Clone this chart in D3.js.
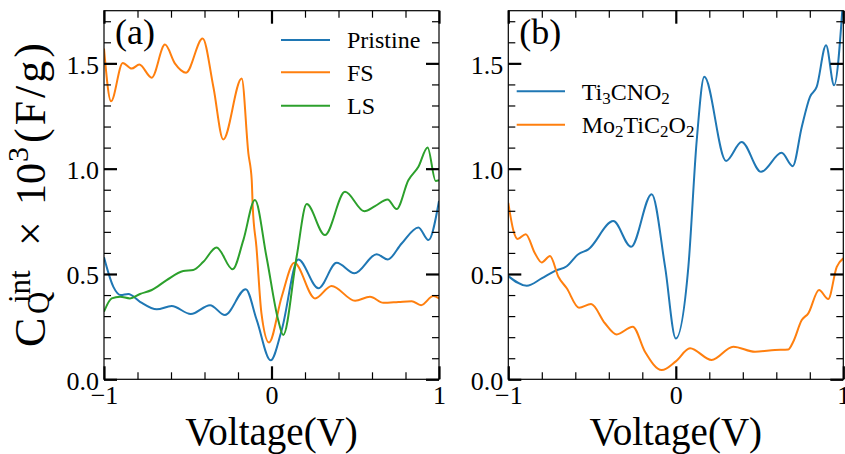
<!DOCTYPE html>
<html>
<head>
<meta charset="utf-8">
<script src="https://cdn.jsdelivr.net/npm/d3@7"></script>
<style>
  html, body { margin: 0; padding: 0; background: #fff; }
  svg { display: block; }
  text { font-family: "Liberation Serif", "Times New Roman", serif; fill: #000; }
</style>
</head>
<body>
<svg id="chart" width="845" height="454"></svg>
<script>
// ---------------- data ----------------
const pristineV = [-1,-0.944,-0.900,-0.855,-0.785,-0.685,-0.596,-0.482,-0.367,-0.278,-0.154,-0.088,-0.005,0.061,0.160,0.280,0.389,0.495,0.628,0.694,0.777,0.877,0.937,1];
const pristineC = [0.579,0.439,0.400,0.405,0.368,0.332,0.348,0.310,0.352,0.305,0.428,0.281,0.090,0.234,0.569,0.432,0.553,0.503,0.594,0.569,0.645,0.721,0.661,0.847];

const fsV = [-1,-0.958,-0.888,-0.835,-0.789,-0.715,-0.636,-0.576,-0.510,-0.411,-0.347,-0.288,-0.178,-0.138,-0.118,-0.112,-0.090,-0.060,-0.015,0.061,0.136,0.260,0.359,0.499,0.588,0.668,0.757,0.837,0.893,0.966,1];
const fsC = [1.570,1.320,1.502,1.475,1.494,1.432,1.589,1.499,1.456,1.618,1.388,1.139,1.428,1.072,0.945,0.819,0.629,0.313,0.175,0.392,0.553,0.384,0.443,0.373,0.392,0.363,0.367,0.371,0.352,0.395,0.384];

const lsV = [-1,-0.954,-0.904,-0.845,-0.785,-0.715,-0.626,-0.527,-0.467,-0.407,-0.328,-0.232,-0.168,-0.099,-0.030,0.040,0.070,0.150,0.210,0.319,0.439,0.554,0.618,0.693,0.747,0.817,0.877,0.932,0.980,1];
const lsC = [0.321,0.384,0.392,0.384,0.405,0.424,0.471,0.514,0.519,0.558,0.626,0.522,0.661,0.851,0.582,0.281,0.210,0.582,0.832,0.685,0.890,0.798,0.822,0.854,0.808,0.945,1.009,1.101,0.942,0.945];

const ticnoV = [-1,-0.890,-0.801,-0.721,-0.651,-0.582,-0.522,-0.373,-0.267,-0.144,-0.064,0,0.075,0.125,0.170,0.300,0.393,0.509,0.632,0.698,0.752,0.801,0.841,0.897,0.945,1];
const ticnoC = [0.490,0.444,0.479,0.515,0.537,0.594,0.617,0.751,0.629,0.879,0.534,0.194,0.534,1.135,1.436,1.037,1.127,0.985,1.075,1.012,1.198,1.341,1.388,1.586,1.396,1.82];

const motiV = [-1,-0.970,-0.944,-0.896,-0.841,-0.801,-0.751,-0.701,-0.651,-0.578,-0.506,-0.423,-0.353,-0.257,-0.184,-0.084,0,0.085,0.214,0.343,0.473,0.592,0.672,0.701,0.752,0.791,0.855,0.910,0.961,1];
const motiC = [0.838,0.708,0.666,0.689,0.598,0.555,0.585,0.487,0.432,0.340,0.357,0.266,0.213,0.250,0.131,0.044,0.085,0.147,0.092,0.155,0.131,0.139,0.142,0.178,0.281,0.313,0.424,0.381,0.534,0.574];

const xMajor = [-1, 0, 1];
const xMinor = [-0.8,-0.6,-0.4,-0.2,0.2,0.4,0.6,0.8];
const xTickLabels = ["\u22121", "0", "1"];
const yMajor = [0, 0.5, 1.0, 1.5];
const yMinor = [0.1,0.2,0.3,0.4,0.6,0.7,0.8,0.9,1.1,1.2,1.3,1.4,1.6,1.7];
const yTickLabels = ["0.0", "0.5", "1.0", "1.5"];

const colors = { blue: "#1f77b4", orange: "#ff7f0e", green: "#2ca02c" };

const panels = [
  { id: "a", label: "(a)", left: 104, right: 439,
    series: [
      { name: "Pristine", v: pristineV, c: pristineC, color: colors.blue },
      { name: "FS", v: fsV, c: fsC, color: colors.orange },
      { name: "LS", v: lsV, c: lsC, color: colors.green }
    ],
    legend: { x1: 281, x2: 330, tx: 347, ys: [40, 72.3, 105.7] }
  },
  { id: "b", label: "(b)", left: 508.3, right: 843.3,
    series: [
      { name: "Ti3CNO2", parts: [["Ti",0],["3",1],["CNO",0],["2",1]], v: ticnoV, c: ticnoC, color: colors.blue },
      { name: "Mo2TiC2O2", parts: [["Mo",0],["2",1],["TiC",0],["2",1],["O",0],["2",1]], v: motiV, c: motiC, color: colors.orange }
    ],
    legend: { x1: 516.7, x2: 565, tx: 581.7, ys: [91.3, 124.7] }
  }
];

// ---------------- drawing ----------------
const svg = d3.select("#chart");
svg.append("rect").attr("width", 845).attr("height", 454).attr("fill", "#fff");

const plotTop = 10.7, plotBottom = 379.3;
const y = d3.scaleLinear().domain([0, 1.75]).range([plotBottom, plotTop]);
const defs = svg.append("defs");

function styleAxis(sel, w) {
  sel.select(".domain").remove();
  sel.selectAll(".tick line").attr("stroke", "#000").attr("stroke-width", w);
}

panels.forEach(p => {
  const x = d3.scaleLinear().domain([-1, 1]).range([p.left, p.right]);
  const g = svg.append("g");

  const clipId = "clip-" + p.id;
  defs.append("clipPath").attr("id", clipId)
    .append("rect").attr("x", p.left).attr("y", plotTop)
    .attr("width", p.right - p.left).attr("height", plotBottom - plotTop);

  const line = d3.line()
    .x(d => x(d[0])).y(d => y(d[1]))
    .curve(d3.curveMonotoneX);
  const cg = g.append("g").attr("clip-path", `url(#${clipId})`);
  p.series.forEach(s => {
    const pts = s.v.map((v, i) => [v, s.c[i]]);
    cg.append("path").datum(pts)
      .attr("d", line)
      .attr("fill", "none")
      .attr("stroke", s.color)
      .attr("stroke-width", 2)
      .attr("stroke-linejoin", "round");
  });

  const bMaj = g.append("g").attr("transform", `translate(0,${plotBottom})`)
    .call(d3.axisBottom(x).tickValues(xMajor).tickSize(-13).tickPadding(6)
      .tickFormat((d, i) => xTickLabels[i]));
  styleAxis(bMaj, 2.2);
  bMaj.selectAll(".tick text").attr("font-size", 26).attr("font-family", "Liberation Serif").attr("fill", "#000");
  styleAxis(g.append("g").attr("transform", `translate(0,${plotBottom})`)
    .call(d3.axisBottom(x).tickValues(xMinor).tickSize(-7).tickFormat("")), 1.2);
  styleAxis(g.append("g").attr("transform", `translate(0,${plotTop})`)
    .call(d3.axisTop(x).tickValues(xMajor).tickSize(-13).tickFormat("")), 2.2);
  styleAxis(g.append("g").attr("transform", `translate(0,${plotTop})`)
    .call(d3.axisTop(x).tickValues(xMinor).tickSize(-7).tickFormat("")), 1.2);
  const lMaj = g.append("g").attr("transform", `translate(${p.left},0)`)
    .call(d3.axisLeft(y).tickValues(yMajor).tickSize(-13).tickPadding(5)
      .tickFormat((d, i) => yTickLabels[i]));
  styleAxis(lMaj, 2.2);
  lMaj.selectAll(".tick text").attr("font-size", 26).attr("font-family", "Liberation Serif")
    .attr("fill", "#000").attr("dy", "0.38em");
  styleAxis(g.append("g").attr("transform", `translate(${p.left},0)`)
    .call(d3.axisLeft(y).tickValues(yMinor).tickSize(-7).tickFormat("")), 1.2);
  styleAxis(g.append("g").attr("transform", `translate(${p.right},0)`)
    .call(d3.axisRight(y).tickValues(yMajor).tickSize(-13).tickFormat("")), 2.2);
  styleAxis(g.append("g").attr("transform", `translate(${p.right},0)`)
    .call(d3.axisRight(y).tickValues(yMinor).tickSize(-7).tickFormat("")), 1.2);

  g.append("rect").attr("x", p.left).attr("y", plotTop)
    .attr("width", p.right - p.left).attr("height", plotBottom - plotTop)
    .attr("fill", "none").attr("stroke", "#000").attr("stroke-width", 1.2);

  g.append("text").attr("x", p.left + 11).attr("y", 44)
    .attr("font-size", 36).text(p.label);

  g.append("text").attr("x", (p.left + p.right) / 2).attr("y", 445)
    .attr("text-anchor", "middle").attr("font-size", 39).text("Voltage(V)");

  p.series.forEach((s, i) => {
    const ly = p.legend.ys[i];
    g.append("line").attr("x1", p.legend.x1).attr("x2", p.legend.x2)
      .attr("y1", ly).attr("y2", ly).attr("stroke", s.color).attr("stroke-width", 2);
    const t = g.append("text").attr("x", p.legend.tx).attr("y", ly + 8.3).attr("font-size", 24);
    if (s.parts) {
      let shifted = false;
      s.parts.forEach(([txt, sub]) => {
        const ts = t.append("tspan").text(txt).attr("font-size", sub ? 17 : 24);
        if (sub && !shifted) { ts.attr("dy", 4); shifted = true; }
        else if (!sub && shifted) { ts.attr("dy", -4); shifted = false; }
      });
    } else {
      t.text(s.name);
    }
  });
});

const yt = svg.append("text").attr("transform", "translate(45,0) rotate(-90)");
yt.append("tspan").attr("x", -347).attr("y", 0).attr("font-size", 44).text("C");
yt.append("tspan").attr("x", -314).attr("y", 4).attr("font-size", 31).text("Q");
yt.append("tspan").attr("x", -303).attr("y", -15).attr("font-size", 31).text("int");
yt.append("tspan").attr("x", -246).attr("y", 0).attr("font-size", 44).text("\u00d7");
yt.append("tspan").attr("x", -205).attr("y", 0).attr("font-size", 42).text("10");
yt.append("tspan").attr("x", -162).attr("y", -17).attr("font-size", 30).text("3");
yt.append("tspan").attr("x", -143).attr("y", 0).attr("font-size", 44).attr("letter-spacing", 3).text("(F/g)");
</script>
</body>
</html>
